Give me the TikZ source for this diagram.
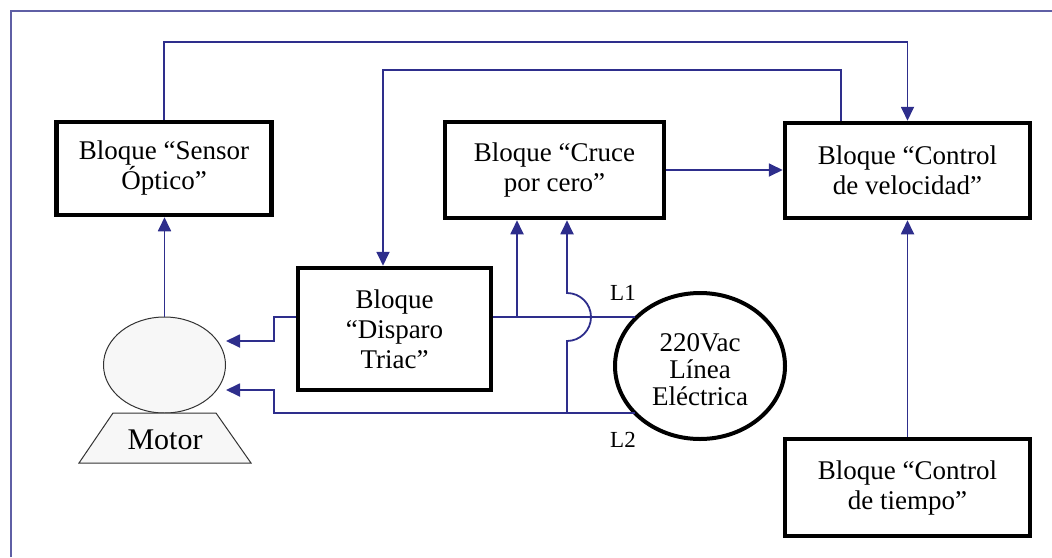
\documentclass[tikz,border=0pt]{standalone}
\usepackage{fontspec}
\setmainfont{Liberation Serif}
\usetikzlibrary{arrows.meta,shapes.geometric}
\definecolor{wirec}{RGB}{46,46,140}
\definecolor{framec}{RGB}{95,95,165}
\begin{document}
\begin{tikzpicture}[x=1pt,y=-1pt,
  blk/.style={draw=black,line width=4.5pt,align=center,inner sep=0pt,font=\fontsize{27}{30}\selectfont},
  wire/.style={draw=wirec,line width=1.8pt},
  arr/.style={wire,-{Triangle[length=14pt,width=13pt]}},
  lbl/.style={font=\fontsize{23}{26}\selectfont,inner sep=0pt}]
\useasboundingbox (0,0) rectangle (1052,557);
\draw[framec,line width=2pt] (11,557) -- (11,11) -- (1052,11);

\node[blk,minimum width=215pt,minimum height=93pt] (sensor) at (164,168.5) {Bloque “Sensor\\Óptico”};
\node[blk,minimum width=219pt,minimum height=96pt] (cruce) at (554.5,170) {Bloque “Cruce\\por cero”};
\node[blk,minimum width=245pt,minimum height=95pt] (vel) at (907.5,170.5) {Bloque “Control\\de velocidad”};
\node[blk,minimum width=245pt,minimum height=97pt] (tiempo) at (907.5,487.5) {Bloque “Control\\de tiempo”};
\node[blk,minimum width=193pt,minimum height=122pt] (triac) at (394.5,329) {Bloque\\“Disparo\\Triac”};

\node[draw=black!80,line width=1pt,ellipse,fill=gray!6,minimum width=122pt,minimum height=96pt,inner sep=0pt] (motor) at (164.5,365) {};
\draw[draw=black!80,line width=1pt,fill=gray!6] (113,413) -- (216,413) -- (251,463) -- (79,463) -- cycle;
\node[font=\fontsize{30}{32}\selectfont,inner sep=0pt] (motorlbl) at (165,440) {Motor};

\node[draw=black,line width=4pt,ellipse,minimum width=170pt,minimum height=146pt,inner sep=0pt] (ac) at (700,366) {};
\node[inner sep=0pt,align=center,font=\fontsize{27}{27}\selectfont] (actext) at (700,370) {220Vac\\Línea\\Eléctrica};
\node[lbl] (l1) at (623,293) {L1};
\node[lbl] (l2) at (623,440) {L2};

\coordinate (t1) at (907.5,42);
\draw[arr] (sensor.north) |- (t1) -- (vel.north);
\coordinate (t2a) at (841,70);
\coordinate (t2b) at (383,70);
\draw[arr] (vel.north -| t2a) -- (t2a) -- (t2b) -- (triac.north -| t2b);
\draw[arr] (cruce.east) -- (vel.west |- cruce.east);
\draw[arr] (motor.north) -- (sensor.south -| motor.north);
\draw[arr] (tiempo.north) -- (vel.south);

\coordinate (acL1) at (635,317);
\coordinate (acL2) at (635,413);
\coordinate (j1) at (517,317);
\coordinate (j2) at (567,413);
\draw[wire] (triac.east |- acL1) -- (acL1);
\draw[arr] (j1) -- (cruce.south -| j1);
\draw[arr] (j2) -- ++(0,-72) arc[start angle=-90,end angle=90,radius=24pt] -- (cruce.south -| j2);

\coordinate (b1) at (274,413);
\coordinate (b2) at (274,390);
\draw[arr] (acL2) -- (b1) -- (b2) -- (motor.east |- b2);
\coordinate (a1) at (274,317);
\coordinate (a2) at (274,341);
\draw[arr] (triac.west |- a1) -- (a1) -- (a2) -- (motor.east |- a2);
\end{tikzpicture}
\end{document}
